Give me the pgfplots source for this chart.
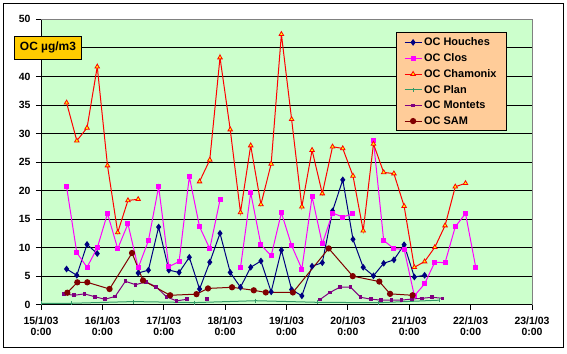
\documentclass[border=0pt]{standalone}
\usepackage{pgfplots}
\pgfplotsset{compat=1.18}
\usepackage{fontspec}
\setmainfont{Liberation Sans}
\definecolor{cnavy}{HTML}{000080}
\definecolor{cmag}{HTML}{FF00FF}
\definecolor{cred}{HTML}{FF0000}
\definecolor{cyel}{HTML}{FFFF00}
\definecolor{cplan}{HTML}{339966}
\definecolor{cpurp}{HTML}{800080}
\definecolor{cmaroon}{HTML}{800000}
\definecolor{plotbg}{HTML}{CCFFCC}
\definecolor{legbg}{HTML}{FFCC99}
\definecolor{titlebg}{HTML}{FFCC00}
\definecolor{bordgray}{HTML}{808080}
\begin{document}
\begin{tikzpicture}
\path[use as bounding box] (0,0) rectangle (567bp,354bp);
\fill[white] (0,0) rectangle (567bp,354bp);
\draw[black, line width=1bp] (3.5bp,6bp) rectangle (563.5bp,350.5bp);
\begin{axis}[
  at={(41bp,49bp)}, anchor=south west,
  scale only axis, width=491bp, height=285.7bp,
  xmin=0, xmax=192, ymin=0, ymax=50,
  axis background/.style={fill=plotbg},
  axis line style={draw=black, line width=1bp},
  xtick={0,24,...,192},
  xticklabels={{15/1/03\\0:00},{16/1/03\\0:00},{17/1/03\\0:00},{18/1/03\\0:00},{19/1/03\\0:00},{20/1/03\\0:00},{21/1/03\\0:00},{22/1/03\\0:00},{23/1/03\\0:00}},
  xticklabel style={align=center, font=\bfseries\fontsize{10.5}{11.8}\selectfont, yshift=-3bp},
  ytick={0,5,...,50},
  yticklabels={0,5,10,15,20,25,30,35,40,,50},
  yticklabel style={font=\bfseries\fontsize{10.5}{12}\selectfont, xshift=-2bp},
  /pgf/number format/assume math mode=true,
  tick pos=left, tick align=outside, major tick length=5bp,
  tick style={black, line width=1bp},
  ymajorgrids, major grid style={black, line width=1bp},
  unbounded coords=jump,
  legend style={at={(0.7224,0.9545)}, anchor=north west, fill=legbg, draw=black, line width=0.8bp,
    font=\bfseries\fontsize{11}{12}\selectfont, row sep=2.4bp, inner xsep=8bp, inner ysep=3bp},
  legend cell align=left,
  every axis plot/.append style={line width=1bp},
]
% Houches
\addplot[cnavy, mark=diamond*, mark size=2.6bp, mark options={fill=cnavy}] coordinates {
(10,6.3)(14,5.2)(18,10.6)(22,9.0)(26,nan)
(38,5.6)(42,6.1)(46,13.65)(50,6.1)(54,5.7)(58,8.35)(62,2.8)(66,7.5)(70,12.55)(74,5.7)
(78,3.1)(82,6.6)(86,7.7)(90,2.3)(94,9.6)(98,2.7)(102,1.6)(106,6.8)(110,7.4)(114,16.45)
(118,21.9)(122,11.5)(126,6.6)(130,5.1)(134,7.3)(138,7.9)(142,10.55)(146,4.9)(150,5.2)};
\addlegendentry{OC Houches}
% Clos
\addplot[cmag, mark=square*, mark size=2bp, mark options={fill=cmag}] coordinates {
(10,20.7)(14,9.15)(18,6.6)(22,10.0)(26,16.0)(30,9.85)(34,14.2)(38,6.5)(42,11.25)(46,20.7)
(50,6.7)(54,7.6)(58,22.45)(62,13.7)(66,9.85)(70,18.4)(74,nan)
(78,6.5)(82,19.65)(86,10.55)(90,8.6)(94,16.15)(98,10.4)(102,6.3)(106,18.95)(110,10.7)
(114,16.1)(118,15.4)(122,16.0)(126,nan)
(130,28.75)(134,11.3)(138,9.85)(142,9.75)(146,1.6)(150,3.7)(154,7.5)(158,7.4)(162,13.7)(166,16.0)(170,6.6)};
\addlegendentry{OC Clos}
% Chamonix
\addplot[cred, mark=triangle*, mark size=2.6bp, mark options={fill=cyel, draw=cred, line width=0.8bp}] coordinates {
(10,35.4)(14,28.75)(18,31.0)(22,41.7)(26,24.4)(30,12.7)(34,18.3)(38,18.5)(42,nan)
(62,21.6)(66,25.4)(70,43.3)(74,30.7)(78,16.2)(82,27.9)(86,17.6)(90,24.7)(94,47.4)(98,32.5)
(102,17.2)(106,27.1)(110,19.5)(114,27.7)(118,27.4)(122,22.6)(126,13.0)(130,28.2)(134,23.2)
(138,23.0)(142,17.3)(146,6.6)(150,7.6)(154,10.1)(158,13.9)(162,20.7)(166,21.3)};
\addlegendentry{OC Chamonix}
% Plan
\addplot[cplan, mark=|, mark size=2bp] coordinates {
(0,0.3)(12,0.3)(36,0.6)(60,0.42)(84,0.75)(108,0.47)(132,0.4)(156,0.85)};
\addlegendentry{OC Plan}
% Montets
\addplot[cpurp, mark=square*, mark size=1.3bp, mark options={fill=cpurp}] coordinates {
(9,1.95)(13,1.7)(17,1.95)(21,1.45)(25,1.0)(29,1.5)(33,4.15)(37,3.55)(41,4.05)(45,3.2)
(49,1.45)(53,0.72)(57,1.0)(61,nan)(65,1.0)(69,nan)
(109,0.93)(113,2.2)(117,3.15)(121,3.15)(125,1.35)(129,1.02)(133,0.85)(137,0.85)(141,0.85)
(145,1.05)(149,1.17)(153,1.35)(157,1.17)};
\addlegendentry{OC Montets}
% SAM
\addplot[cmaroon, mark=*, mark size=2.6bp, mark options={fill=cmaroon}] coordinates {
(10.3,2.15)(14.2,3.97)(18.1,3.97)(26.8,2.8)(35.6,9.1)(39.9,4.3)(50.5,1.7)(60.8,1.9)
(65.3,2.9)(74.7,3.1)(83.2,2.57)(87.9,2.2)(98.5,2.2)(112.5,9.9)(121.9,5.05)(132.3,4.1)
(136.5,1.95)(145.3,1.7)};
\addlegendentry{OC SAM}
\end{axis}
\draw[bordgray, line width=1bp] (41bp,334.7bp) -- (532bp,334.7bp) -- (532bp,49bp);
\node[fill=titlebg, draw=black, line width=0.8bp, minimum width=67.4bp, minimum height=23.3bp,
  inner sep=0pt, font=\bfseries\fontsize{12}{14}\selectfont] at (48bp,306.3bp) {OC µg/m3};
\end{tikzpicture}
\end{document}
